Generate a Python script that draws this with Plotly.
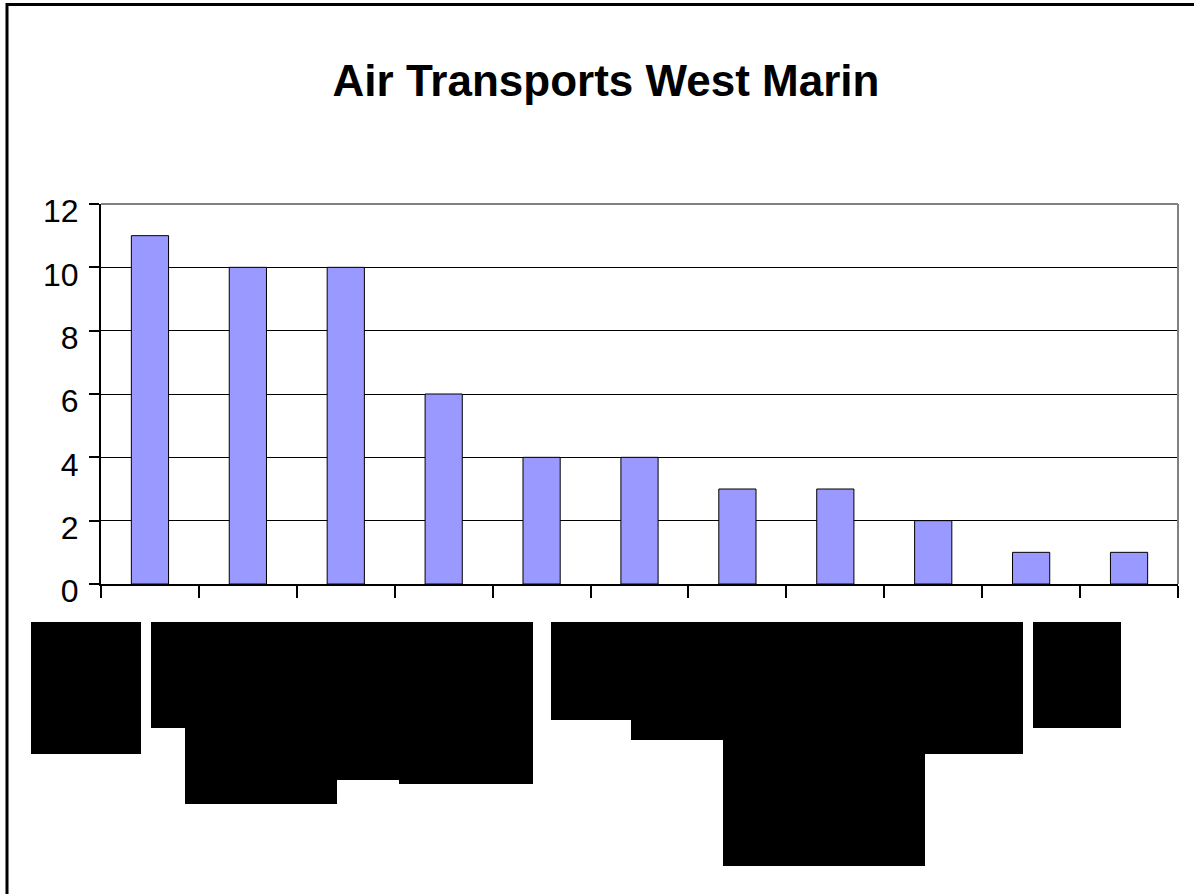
import plotly.graph_objects as go

# data (category names are redacted in the source image)
categories = ["c1", "c2", "c3", "c4", "c5", "c6", "c7", "c8", "c9", "c10", "c11"]
transports = [11, 10, 10, 6, 4, 4, 3, 3, 2, 1, 1]
y_ticks = [0, 2, 4, 6, 8, 10, 12]

W, H = 1194, 894
PLOT_L, PLOT_R, PLOT_T, PLOT_B = 101, 1178, 204, 584

# redaction boxes over the x labels, in page pixels (x0, y0, x1, y1)
REDACTIONS = [
    (31, 622, 141, 754),
    (151, 622, 533, 728),
    (185, 622, 337, 804),
    (337, 622, 399, 780),
    (399, 622, 533, 784),
    (551, 622, 1023, 720),
    (631, 622, 1023, 740),
    (723, 622, 925, 866),
    (925, 622, 1023, 754),
    (1033, 622, 1121, 728),
]


def px_x(x):
    return (x - PLOT_L) / (PLOT_R - PLOT_L)


def px_y(y):
    return (PLOT_B - y) / (PLOT_B - PLOT_T)


fig = go.Figure(
    go.Bar(
        x=categories,
        y=transports,
        marker=dict(color="#9999FF", line=dict(color="black", width=1)),
    )
)

shapes = []
for x0, y0, x1, y1 in REDACTIONS:
    shapes.append(dict(
        type="rect", xref="paper", yref="paper",
        x0=px_x(x0), x1=px_x(x1), y0=px_y(y1), y1=px_y(y0),
        fillcolor="black", line=dict(width=0), layer="above",
    ))

# grey frame on top and right of the plot area
shapes.append(dict(type="line", xref="paper", yref="paper", x0=0, x1=1, y0=1, y1=1,
                   line=dict(color="#808080", width=2), layer="above"))
shapes.append(dict(type="line", xref="paper", yref="paper", x0=1, x1=1, y0=0, y1=1,
                   line=dict(color="#808080", width=2), layer="above"))
# outer chart border (right and bottom edges fall off the page)
shapes.append(dict(type="rect", xref="paper", yref="paper",
                   x0=px_x(7), x1=px_x(1204), y0=px_y(904), y1=px_y(4.5),
                   line=dict(color="black", width=3), fillcolor="rgba(0,0,0,0)", layer="above"))

fig.update_layout(
    width=W,
    height=H,
    template="plotly_white",
    paper_bgcolor="white",
    plot_bgcolor="white",
    margin=dict(l=PLOT_L, r=W - PLOT_R, t=PLOT_T, b=H - PLOT_B, pad=0),
    title=dict(
        text="<b>Air Transports West Marin</b>",
        x=606 / W, xanchor="center", y=1 - 81 / H, yanchor="middle",
        font=dict(family="Arial, Liberation Sans", size=44, color="black"),
    ),
    bargap=0.62,
    showlegend=False,
    shapes=shapes,
    font=dict(family="Arial, Liberation Sans", color="black"),
)

fig.update_xaxes(
    showticklabels=False,
    showgrid=False,
    showline=True, linecolor="black", linewidth=2,
    ticks="outside", tickson="boundaries", ticklen=12, tickwidth=2, tickcolor="black",
)
fig.update_yaxes(
    range=[0, 12],
    tickvals=y_ticks,
    showgrid=True, gridcolor="black", gridwidth=1,
    zeroline=False,
    showline=True, linecolor="black", linewidth=2,
    ticks="outside", ticklen=10, tickwidth=2, tickcolor="black",
    ticklabelstandoff=4,
    ticklabelshift=7,
    tickfont=dict(family="Arial, Liberation Sans", size=32, color="black"),
)

# drop the default body margin so the figure sits at the page origin
fig.write_html(
    "out.html",
    config={"displayModeBar": False},
    post_script="document.body.style.margin='0';",
)
